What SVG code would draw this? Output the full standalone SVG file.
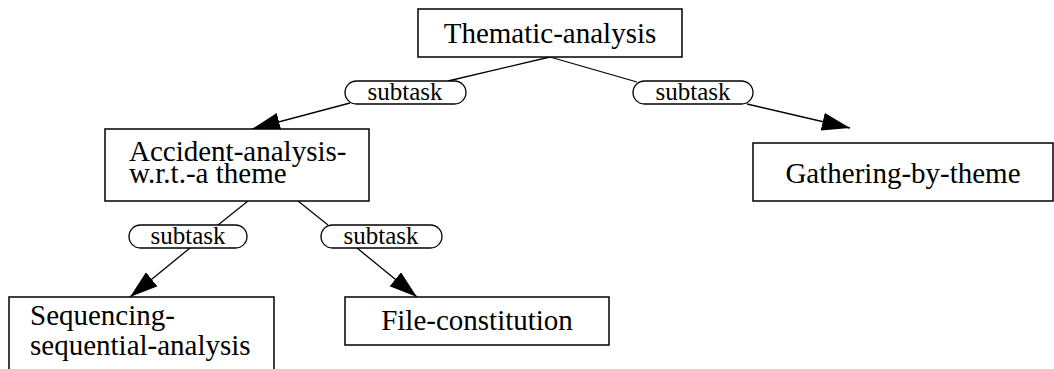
<svg xmlns="http://www.w3.org/2000/svg" width="1054" height="369" viewBox="0 0 1054 369">
<style>
.box{fill:#fff;stroke:#000;stroke-width:1.5}
.pill{fill:#fff;stroke:#000;stroke-width:1.3}
.t{font-family:"Liberation Serif","Times New Roman",serif;font-size:29px;fill:#000}
.s{font-family:"Liberation Serif","Times New Roman",serif;font-size:25px;fill:#000;text-anchor:middle}
.e{stroke:#000;stroke-width:1.3;fill:none}
</style>
<defs>
<marker id="arr" markerUnits="userSpaceOnUse" markerWidth="30" markerHeight="20" refX="28" refY="9" orient="auto">
<path d="M0,0 L28,9 L0,18 z" fill="#000"/>
</marker>
</defs>
<rect width="1054" height="369" fill="#fff"/>
<g id="connectors">
<line class="e" x1="550" y1="57" x2="448" y2="81"/>
<line class="e" x1="350" y1="103" x2="252" y2="129" marker-end="url(#arr)"/>
<line class="e" x1="550" y1="57" x2="637" y2="82"/>
<line class="e" x1="747" y1="104" x2="850" y2="128" marker-end="url(#arr)"/>
<line class="e" x1="248" y1="201" x2="218" y2="225"/>
<line class="e" x1="190" y1="248" x2="130" y2="297" marker-end="url(#arr)"/>
<line class="e" x1="298" y1="201" x2="328" y2="225"/>
<line class="e" x1="357" y1="248" x2="417" y2="297" marker-end="url(#arr)"/>
</g>
<g id="label-1"><rect class="pill" x="345" y="81" width="121" height="23" rx="11.5"/><text class="s" x="405" y="100">subtask</text></g>
<g id="label-2"><rect class="pill" x="633" y="81" width="120" height="23" rx="11.5"/><text class="s" x="693" y="100">subtask</text></g>
<g id="label-3"><rect class="pill" x="129" y="225" width="118" height="23" rx="11.5"/><text class="s" x="188" y="244">subtask</text></g>
<g id="label-4"><rect class="pill" x="321" y="225" width="121" height="23" rx="11.5"/><text class="s" x="381" y="244">subtask</text></g>
<g id="thematic-analysis"><rect class="box" x="418" y="9" width="264" height="48"/><text class="t" x="550" y="43" text-anchor="middle">Thematic-analysis</text></g>
<g id="accident-analysis"><rect class="box" x="105" y="129" width="264" height="72"/><text class="t" x="129" y="161">Accident-analysis-<tspan x="129" y="183">w.r.t.-a theme</tspan></text></g>
<g id="gathering-by-theme"><rect class="box" x="753" y="143" width="300" height="58"/><text class="t" x="903" y="183" text-anchor="middle">Gathering-by-theme</text></g>
<g id="sequencing"><rect class="box" x="9" y="297" width="265" height="80"/><text class="t" x="30" y="325">Sequencing-<tspan x="30" y="355">sequential-analysis</tspan></text></g>
<g id="file-constitution"><rect class="box" x="345" y="297" width="264" height="48"/><text class="t" x="477" y="330" text-anchor="middle">File-constitution</text></g>
</svg>
